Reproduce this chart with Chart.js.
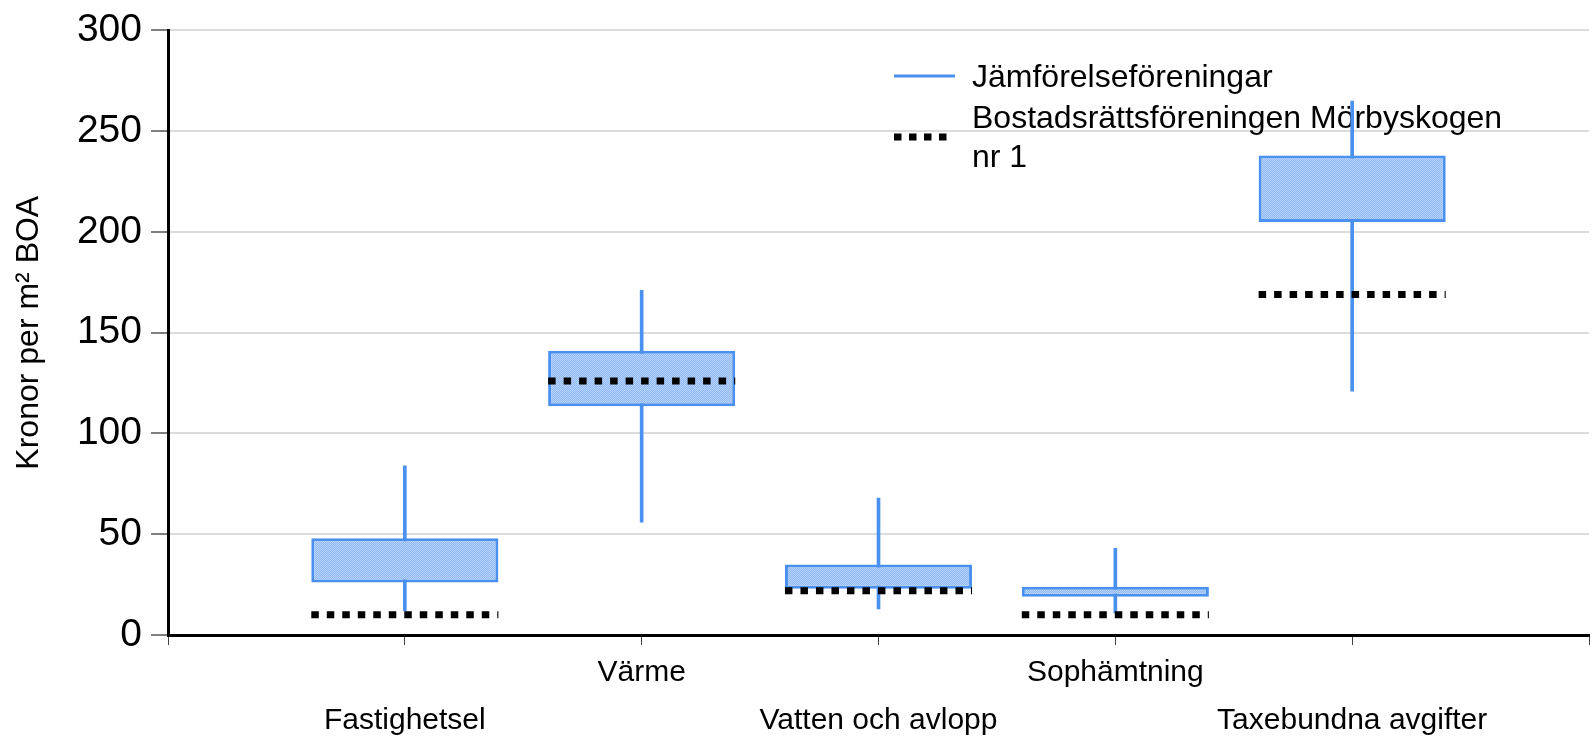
<!DOCTYPE html>
<html>
<head>
<meta charset="utf-8">
<script src="https://cdn.jsdelivr.net/npm/chart.js@4/dist/chart.umd.min.js"></script>
<style>
  html, body { margin: 0; padding: 0; background: #fff; }
  #wrap { width: 1593px; height: 738px; }
</style>
</head>
<body>
<div id="wrap"><canvas id="chart" width="1593" height="738"></canvas></div>
<script>
// Data
const categories = ["Fastighetsel", "Värme", "Vatten och avlopp", "Sophämtning", "Taxebundna avgifter"]
const whiskerMin = [12, 56, 13, 11, 121]
const boxLow = [26, 113.5, 23, 19, 205]
const boxHigh = [48, 141, 35, 24, 238]
const whiskerMax = [84, 171, 68, 43, 265]
const ownValues = [10, 126, 22, 10, 169]
const yTicks = [0, 50, 100, 150, 200, 250, 300]
const seriesNames = ["Jämförelseföreningar", "Bostadsrättsföreningen Mörbyskogen nr 1"]

const blue = "rgb(74, 144, 238)"
const halfBox = 0.395

// dithered light blue fill like the original
function makePattern() {
  const c = document.createElement("canvas")
  c.width = 2
  c.height = 2
  const g = c.getContext("2d")
  g.fillStyle = "rgb(145, 186, 245)"
  g.fillRect(0, 0, 2, 2)
  g.fillStyle = "rgb(182, 210, 250)"
  g.fillRect(0, 0, 1, 1)
  g.fillRect(1, 1, 1, 1)
  return g.createPattern(c, "repeat")
}

const positions = categories.map((c, i) => i + 1)

const whiskerData = positions.map((x, i) => ({ x: x, y: [whiskerMin[i], whiskerMax[i]] }))
const boxData = positions.map((x, i) => ({ x: x, y: [boxLow[i], boxHigh[i]] }))
const ownData = []
positions.forEach((x, i) => {
  ownData.push({ x: x - halfBox, y: ownValues[i] })
  ownData.push({ x: x + halfBox, y: ownValues[i] })
  ownData.push({ x: x + 0.5, y: null })
})

// legend drawn inside the plot, behind the marks
const legendPlugin = {
  id: "boxLegend",
  beforeDatasetsDraw(chart) {
    const ctx = chart.ctx
    ctx.save()
    ctx.font = "32px 'Liberation Sans', Arial, sans-serif"
    ctx.fillStyle = "#000"
    ctx.textBaseline = "middle"
    ctx.textAlign = "left"

    ctx.strokeStyle = blue
    ctx.lineWidth = 3
    ctx.beginPath()
    ctx.moveTo(894, 76)
    ctx.lineTo(955, 76)
    ctx.stroke()
    ctx.fillText(seriesNames[0], 972, 78)

    ctx.strokeStyle = "#000"
    ctx.lineWidth = 7
    ctx.setLineDash([7.5, 7.5])
    ctx.beginPath()
    ctx.moveTo(894, 137)
    ctx.lineTo(949, 137)
    ctx.stroke()
    ctx.setLineDash([])
    const parts = seriesNames[1].split(" nr ")
    ctx.fillText(parts[0], 972, 119)
    ctx.fillText("nr " + parts[1], 972, 158)
    ctx.restore()
  },
}

const ctx = document.getElementById("chart").getContext("2d")

new Chart(ctx, {
  type: "bar",
  data: {
    datasets: [
      {
        type: "line",
        label: seriesNames[1],
        data: ownData,
        borderColor: "#000",
        borderWidth: 7,
        borderDash: [7.5, 8],
        borderCapStyle: "butt",
        pointRadius: 0,
        spanGaps: false,
        order: 0,
      },
      {
        label: seriesNames[0],
        data: boxData,
        backgroundColor: makePattern(),
        borderColor: blue,
        borderWidth: 3,
        borderSkipped: false,
        grouped: false,
        categoryPercentage: 1,
        barPercentage: 0.79,
        order: 1,
      },
      {
        label: "whisker",
        data: whiskerData,
        backgroundColor: blue,
        borderWidth: 0,
        grouped: false,
        categoryPercentage: 1,
        barPercentage: 1,
        maxBarThickness: 3,
        order: 2,
      },
    ],
  },
  options: {
    responsive: false,
    animation: false,
    layout: {
      padding: { left: 10, right: 4, top: 4, bottom: 0 },
    },
    scales: {
      x: {
        type: "linear",
        min: 0,
        max: 6,
        offset: false,
        afterBuildTicks(scale) {
          scale.ticks = [0, 1, 2, 3, 4, 5, 6].map((v) => ({ value: v }))
        },
        afterFit(scale) {
          scale.height = 103
        },
        ticks: {
          autoSkip: false,
          maxRotation: 0,
          padding: 4,
          color: "#000",
          font: { family: "'Liberation Sans', Arial, sans-serif", size: 30, lineHeight: 1.6 },
          callback: (v) => {
            const name = categories[v - 1]
            if (!name) return ""
            return v % 2 === 1 ? ["", name] : name
          },
        },
        grid: {
          offset: false,
          drawOnChartArea: false,
          drawTicks: true,
          tickLength: 10,
          color: "#444",
          lineWidth: 1,
        },
        border: { color: "#000", width: 3 },
      },
      y: {
        min: 0,
        max: 300,
        afterBuildTicks(scale) {
          scale.ticks = yTicks.map((v) => ({ value: v }))
        },
        afterFit(scale) {
          scale.width = 158
        },
        ticks: {
          padding: 9,
          color: "#000",
          font: { family: "'Liberation Sans', Arial, sans-serif", size: 39, lineHeight: 1.1 },
        },
        grid: {
          color: "#dcdcdc",
          lineWidth: 2,
          tickColor: "#555",
          tickLength: 17,
          tickWidth: 1.5,
        },
        border: { color: "#000", width: 3 },
        title: {
          display: true,
          text: "Kronor per m² BOA",
          color: "#000",
          font: { family: "'Liberation Sans', Arial, sans-serif", size: 32 },
          padding: 0,
        },
      },
    },
    plugins: {
      legend: { display: false },
      tooltip: { enabled: false },
    },
  },
  plugins: [legendPlugin],
})
</script>
</body>
</html>
